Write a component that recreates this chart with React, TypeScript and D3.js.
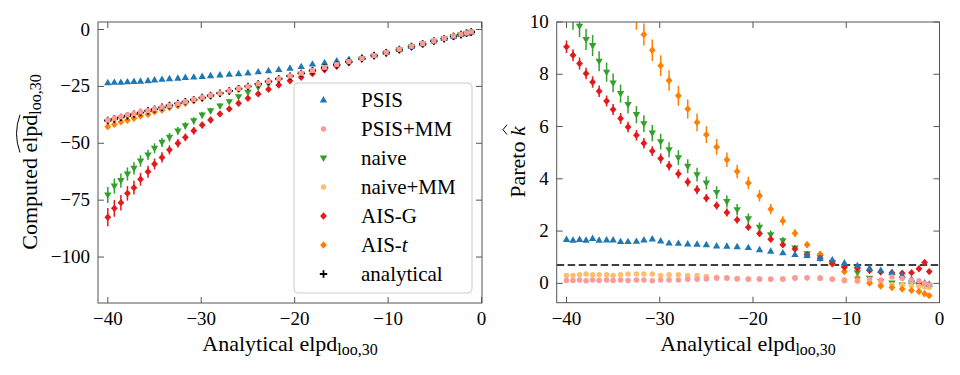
import { useEffect, useRef } from 'react';
import * as d3 from 'd3';

// analytical elpd_loo,30 (x positions shared by both panels)
const elpdX = [-40.0, -39.3, -38.6, -37.9, -37.2, -36.5, -35.7, -35.0, -34.2, -33.4, -32.5, -31.7, -30.8, -29.9, -29.0, -28.0, -27.0, -26.0, -25.0, -23.9, -22.8, -21.7, -20.5, -19.3, -18.1, -16.8, -15.5, -14.2, -12.8, -11.5, -10.2, -8.8, -7.5, -6.3, -5.1, -4.0, -3.0, -2.2, -1.6, -1.1];

// left panel: computed elpd
const psisElpd = [-23.4, -23.2, -23.2, -23.0, -22.8, -22.7, -22.5, -22.2, -21.9, -21.6, -21.4, -21.1, -20.9, -20.6, -20.3, -20.0, -19.7, -19.4, -19.1, -18.6, -18.1, -17.6, -17.0, -16.3, -15.2, -14.6, -13.8, -13.1, -12.3, -11.2, -10.1, -8.8, -7.5, -6.3, -5.1, -4.0, -3.0, -2.2, -1.6, -1.1];
const psisMmElpd = [-39.8, -39.0, -38.3, -37.5, -36.9, -36.2, -35.6, -34.8, -34.1, -33.4, -32.5, -31.7, -30.7, -29.8, -28.9, -27.9, -26.9, -25.9, -24.9, -23.8, -22.7, -21.6, -20.4, -19.2, -18.0, -16.7, -15.4, -14.1, -12.7, -11.4, -10.1, -8.7, -7.4, -6.2, -5.0, -3.9, -2.9, -2.1, -1.5, -1.0];
const naiveElpd = [-72.7, -68.8, -66.4, -63.5, -61.0, -57.8, -55.1, -52.2, -49.6, -47.4, -44.6, -42.3, -40.1, -37.6, -35.7, -33.6, -31.7, -29.5, -27.6, -25.4, -23.9, -22.2, -20.9, -19.6, -18.4, -17.1, -15.7, -14.3, -12.9, -11.6, -10.3, -8.9, -7.6, -6.4, -5.2, -4.1, -3.1, -2.3, -1.7, -1.2];
const naiveMmElpd = [-40.3, -39.5, -38.7, -37.9, -37.2, -36.5, -35.8, -35.0, -34.2, -33.5, -32.6, -31.8, -30.8, -29.9, -29.0, -28.0, -27.0, -26.0, -25.0, -23.9, -22.8, -21.7, -20.5, -19.3, -18.1, -16.8, -15.5, -14.2, -12.8, -11.5, -10.2, -8.8, -7.5, -6.3, -5.1, -4.0, -3.0, -2.2, -1.6, -1.1];
const aisGElpd = [-82.5, -78.6, -76.1, -72.0, -69.5, -65.8, -62.5, -59.1, -56.2, -52.9, -50.0, -47.4, -44.5, -42.0, -39.8, -37.1, -34.9, -32.4, -30.2, -28.3, -26.3, -24.4, -22.5, -21.0, -19.4, -17.7, -16.2, -14.6, -13.0, -11.6, -10.3, -8.9, -7.6, -6.4, -5.2, -4.1, -3.1, -2.3, -1.7, -1.2];
const aisTElpd = [-42.7, -41.7, -40.6, -39.9, -39.0, -38.0, -37.3, -36.2, -35.4, -34.3, -33.5, -32.4, -31.3, -30.3, -29.3, -28.2, -27.2, -26.2, -25.1, -24.0, -22.9, -21.8, -20.6, -19.4, -18.2, -16.9, -15.6, -14.3, -12.9, -11.6, -10.3, -8.9, -7.6, -6.4, -5.2, -4.1, -3.1, -2.3, -1.7, -1.2];
const analyticalElpd = [-40.0, -39.3, -38.6, -37.9, -37.2, -36.5, -35.7, -35.0, -34.2, -33.4, -32.5, -31.7, -30.8, -29.9, -29.0, -28.0, -27.0, -26.0, -25.0, -23.9, -22.8, -21.7, -20.5, -19.3, -18.1, -16.8, -15.5, -14.2, -12.8, -11.5, -10.2, -8.8, -7.5, -6.3, -5.1, -4.0, -3.0, -2.2, -1.6, -1.1];

const naiveElpdErr = [3.5, 3.3, 3.1, 2.9, 2.7, 2.5, 2.3, 2.2, 2.0, 1.9, 1.7, 1.6, 1.5, 1.4, 1.3, 1.2, 1.1, 1.0, 0.9, 0.8, 0.7, 0.6, 0.5, 0.5, 0.4, 0.4, 0.3, 0.3, 0.3, 0.2, 0.2, 0.2, 0.2, 0.2, 0.1, 0.1, 0.1, 0.1, 0.1, 0.1];
const aisGElpdErr = [4.0, 3.7, 3.4, 3.2, 3.0, 2.8, 2.6, 2.4, 2.2, 2.0, 1.9, 1.7, 1.6, 1.5, 1.4, 1.3, 1.2, 1.1, 1.0, 0.9, 0.8, 0.7, 0.6, 0.6, 0.5, 0.4, 0.4, 0.3, 0.3, 0.2, 0.2, 0.2, 0.2, 0.2, 0.1, 0.1, 0.1, 0.1, 0.1, 0.1];
const aisTElpdErr = [0.6, 0.6, 0.5, 0.5, 0.5, 0.5, 0.4, 0.4, 0.4, 0.4, 0.3, 0.3, 0.3, 0.3, 0.3, 0.2, 0.2, 0.2, 0.2, 0.2, 0.2, 0.1, 0.1, 0.1, 0.1, 0.1, 0.1, 0.1, 0.1, 0.1, 0.1, 0.1, 0.1, 0.1, 0.1, 0.1, 0.1, 0.1, 0.1, 0.1];

// right panel: Pareto k-hat
const psisK = [1.68, 1.65, 1.68, 1.65, 1.72, 1.65, 1.66, 1.66, 1.60, 1.60, 1.61, 1.66, 1.70, 1.62, 1.54, 1.53, 1.51, 1.50, 1.48, 1.43, 1.42, 1.40, 1.37, 1.29, 1.23, 1.17, 1.10, 1.07, 0.95, 0.90, 0.78, 0.68, 0.58, 0.50, 0.42, 0.30, 0.16, 0.07, 0.02, -0.03];
const psisMmK = [0.11, 0.11, 0.13, 0.10, 0.13, 0.11, 0.13, 0.11, 0.13, 0.11, 0.13, 0.13, 0.10, 0.13, 0.13, 0.13, 0.16, 0.16, 0.17, 0.20, 0.20, 0.17, 0.16, 0.16, 0.16, 0.16, 0.20, 0.21, 0.20, 0.16, 0.10, 0.10, 0.16, 0.13, 0.24, 0.19, 0.13, 0.10, 0.00, -0.06];
const naiveK = [10.6, 10.15, 9.84, 9.33, 9.10, 8.50, 8.08, 7.67, 7.26, 6.84, 6.46, 6.11, 5.75, 5.42, 5.11, 4.81, 4.48, 4.16, 3.84, 3.48, 3.13, 2.82, 2.47, 2.15, 1.86, 1.63, 1.35, 1.13, 1.00, 0.80, 0.58, 0.41, 0.20, 0.07, 0.01, -0.06, -0.06, -0.06, -0.06, -0.10];
const naiveMmK = [0.30, 0.30, 0.33, 0.36, 0.33, 0.33, 0.33, 0.30, 0.33, 0.36, 0.36, 0.36, 0.36, 0.30, 0.33, 0.33, 0.30, 0.30, 0.26, 0.22, 0.21, 0.19, 0.18, 0.18, 0.17, 0.18, 0.21, 0.21, 0.20, 0.17, 0.14, 0.08, 0.02, -0.02, -0.05, -0.07, -0.08, -0.11, -0.14, -0.16];
const aisGK = [9.05, 8.73, 8.41, 8.03, 7.70, 7.35, 6.98, 6.65, 6.31, 5.98, 5.67, 5.36, 5.06, 4.78, 4.50, 4.19, 3.88, 3.58, 3.26, 2.98, 2.71, 2.43, 2.15, 1.91, 1.69, 1.48, 1.31, 1.09, 0.96, 0.77, 0.62, 0.58, 0.49, 0.43, 0.41, 0.39, 0.41, 0.56, 0.80, 0.45];
const aisTK = [15.8, 15.3, 14.7, 14.1, 13.6, 13.0, 12.4, 11.9, 11.3, 10.7, 10.2, 9.52, 8.92, 8.33, 7.76, 7.18, 6.67, 6.16, 5.69, 5.22, 4.73, 4.28, 3.84, 3.35, 2.84, 2.39, 1.92, 1.48, 1.12, 0.73, 0.45, 0.22, 0.01, -0.10, -0.16, -0.22, -0.27, -0.31, -0.40, -0.47];

const naiveKErr = [0.45, 0.45, 0.42, 0.4, 0.4, 0.38, 0.37, 0.36, 0.35, 0.34, 0.33, 0.32, 0.31, 0.3, 0.29, 0.28, 0.27, 0.26, 0.25, 0.24, 0.23, 0.22, 0.2, 0.18, 0.16, 0.14, 0.12, 0.1, 0.08, 0.07, 0.06, 0.05, 0.05, 0.04, 0.04, 0.04, 0.04, 0.04, 0.04, 0.04];
const aisGKErr = [0.24, 0.23, 0.23, 0.22, 0.22, 0.22, 0.21, 0.21, 0.21, 0.2, 0.2, 0.2, 0.19, 0.19, 0.18, 0.18, 0.17, 0.17, 0.16, 0.15, 0.15, 0.14, 0.13, 0.12, 0.11, 0.1, 0.09, 0.08, 0.07, 0.06, 0.05, 0.05, 0.04, 0.04, 0.04, 0.04, 0.04, 0.04, 0.05, 0.04];
const aisTKErr = [0.5, 0.5, 0.5, 0.5, 0.5, 0.5, 0.5, 0.5, 0.5, 0.5, 0.5, 0.42, 0.41, 0.4, 0.39, 0.38, 0.36, 0.34, 0.32, 0.3, 0.28, 0.26, 0.24, 0.22, 0.2, 0.18, 0.15, 0.12, 0.1, 0.08, 0.06, 0.05, 0.05, 0.04, 0.04, 0.04, 0.04, 0.04, 0.04, 0.04];

const xTicks = [-40, -30, -20, -10, 0];
const elpdTicks = [0, -25, -50, -75, -100];
const kTicks = [0, 2, 4, 6, 8, 10];
const kThreshold = 0.7;

const legendLabels = ['PSIS', 'PSIS+MM', 'naive', 'naive+MM', 'AIS-G', 'AIS-t', 'analytical'];

const C = {
  psis: '#1f78b4',
  psisMm: '#fb9a99',
  naive: '#33a02c',
  naiveMm: '#fdbf6f',
  aisG: '#e31a1c',
  aisT: '#ff7f00',
  analytical: '#000000',
};

const FONT = "'Liberation Serif', 'DejaVu Serif', serif";
const minus = (v: number) => (v < 0 ? '\u2212' + Math.abs(v) : String(v));

type Shape = 'up' | 'down' | 'circle' | 'diamond' | 'plus';
interface Series { key: string; color: string; shape: Shape; y: number[]; err?: number[] }
type G = d3.Selection<SVGGElement, unknown, null, undefined>;
type S = d3.Selection<SVGSVGElement, unknown, null, undefined>;

function markerPath(shape: Shape): string {
  switch (shape) {
    case 'up': return 'M0,-3.9L3.7,2.5L-3.7,2.5Z';
    case 'down': return 'M0,3.9L3.7,-2.5L-3.7,-2.5Z';
    case 'circle': return d3.symbol(d3.symbolCircle, 24)() as string;
    case 'diamond': return 'M0,-3.7L3.4,0L0,3.7L-3.4,0Z';
    default: return 'M-3.7,0H3.7M0,-3.7V3.7';
  }
}

function drawMarker(g: G, shape: Shape, color: string, x: number, y: number) {
  const p = g.append('path')
    .attr('d', markerPath(shape))
    .attr('transform', `translate(${x},${y})`);
  if (shape === 'plus') p.attr('fill', 'none').attr('stroke', color).attr('stroke-width', 1.8);
  else p.attr('fill', color);
}

// serif text helper: font set as inline style so every label uses it
function label(parent: G | S, size: number) {
  return (parent as G).append('text')
    .style('font-family', FONT)
    .style('font-size', `${size}px`)
    .attr('fill', '#000');
}

interface PanelOpts {
  id: string;
  left: number; right: number; top: number; bottom: number;
  xDomain: [number, number];
  yDomain: [number, number];
  yTicks: number[];
  series: Series[];
  threshold?: number;
}

function drawPanel(svg: S, o: PanelOpts) {
  const x = d3.scaleLinear().domain(o.xDomain).range([o.left, o.right]);
  const y = d3.scaleLinear().domain(o.yDomain).range([o.bottom, o.top]);

  svg.append('clipPath').attr('id', o.id)
    .append('rect')
    .attr('x', o.left).attr('y', o.top)
    .attr('width', o.right - o.left).attr('height', o.bottom - o.top);

  const plot = svg.append('g').attr('clip-path', `url(#${o.id})`);

  if (o.threshold !== undefined) {
    plot.append('line')
      .attr('x1', o.left).attr('x2', o.right)
      .attr('y1', y(o.threshold)).attr('y2', y(o.threshold))
      .attr('stroke', '#000').attr('stroke-width', 1.5)
      .attr('stroke-dasharray', '7.5,3.5');
  }

  o.series.forEach(s => {
    const g = plot.append('g');
    if (s.err) {
      elpdX.forEach((xv, i) => {
        g.append('line')
          .attr('x1', x(xv)).attr('x2', x(xv))
          .attr('y1', y(s.y[i] - s.err![i])).attr('y2', y(s.y[i] + s.err![i]))
          .attr('stroke', s.color).attr('stroke-width', 1.5);
      });
    }
    elpdX.forEach((xv, i) => drawMarker(g, s.shape, s.color, x(xv), y(s.y[i])));
  });

  // frame and inward ticks on all sides
  const axis = svg.append('g').attr('stroke', '#555').attr('stroke-width', 1);
  axis.append('rect')
    .attr('x', o.left).attr('y', o.top)
    .attr('width', o.right - o.left).attr('height', o.bottom - o.top)
    .attr('fill', 'none');
  const tl = 6;
  xTicks.forEach(t => {
    const px = x(t);
    axis.append('line').attr('x1', px).attr('x2', px).attr('y1', o.bottom).attr('y2', o.bottom - tl);
    axis.append('line').attr('x1', px).attr('x2', px).attr('y1', o.top).attr('y2', o.top + tl);
    label(svg, 19)
      .attr('x', px).attr('y', o.bottom + 22)
      .attr('text-anchor', 'middle')
      .append('tspan').text(minus(t));
  });
  o.yTicks.forEach(t => {
    const py = y(t);
    axis.append('line').attr('x1', o.left).attr('x2', o.left + tl).attr('y1', py).attr('y2', py);
    axis.append('line').attr('x1', o.right).attr('x2', o.right - tl).attr('y1', py).attr('y2', py);
    label(svg, 19)
      .attr('x', o.left - 8).attr('y', py + 6)
      .attr('text-anchor', 'end')
      .append('tspan').text(minus(t));
  });

  // x label
  const xl = label(svg, 22)
    .attr('x', (o.left + o.right) / 2).attr('y', o.bottom + 48)
    .attr('text-anchor', 'middle');
  xl.append('tspan').text('Analytical elpd');
  xl.append('tspan').style('font-size', '16px').attr('dy', 4).text('loo,30');
}

export default function App() {
  const svgRef = useRef<SVGSVGElement | null>(null);

  useEffect(() => {
    if (!svgRef.current) return;
    document.body.style.margin = '0';
    const svg = d3.select(svgRef.current);
    svg.selectAll('*').remove();

    const leftBox = { left: 98, right: 482, top: 22, bottom: 303 };
    const rightBox = { left: 556.7, right: 939.5, top: 22, bottom: 302.7 };

    drawPanel(svg, {
      id: 'clipL', ...leftBox,
      xDomain: [-41.05, 0.05], yDomain: [-120.2, 3.3], yTicks: elpdTicks,
      series: [
        { key: 'naive', color: C.naive, shape: 'down', y: naiveElpd, err: naiveElpdErr },
        { key: 'naiveMm', color: C.naiveMm, shape: 'circle', y: naiveMmElpd },
        { key: 'aisT', color: C.aisT, shape: 'diamond', y: aisTElpd, err: aisTElpdErr },
        { key: 'aisG', color: C.aisG, shape: 'diamond', y: aisGElpd, err: aisGElpdErr },
        { key: 'psis', color: C.psis, shape: 'up', y: psisElpd },
        { key: 'analytical', color: C.analytical, shape: 'plus', y: analyticalElpd },
        { key: 'psisMm', color: C.psisMm, shape: 'circle', y: psisMmElpd },
      ],
    });

    drawPanel(svg, {
      id: 'clipR', ...rightBox,
      xDomain: [-41.05, 0], yDomain: [-0.74, 10], yTicks: kTicks,
      threshold: kThreshold,
      series: [
        { key: 'naive', color: C.naive, shape: 'down', y: naiveK, err: naiveKErr },
        { key: 'naiveMm', color: C.naiveMm, shape: 'circle', y: naiveMmK },
        { key: 'aisT', color: C.aisT, shape: 'diamond', y: aisTK, err: aisTKErr },
        { key: 'aisG', color: C.aisG, shape: 'diamond', y: aisGK, err: aisGKErr },
        { key: 'psis', color: C.psis, shape: 'up', y: psisK },
        { key: 'psisMm', color: C.psisMm, shape: 'circle', y: psisMmK },
      ],
    });

    // left y label with a wide hat over "elpd"
    const yl = svg.append('g').attr('transform', 'translate(37,162) rotate(-90)');
    const ylt = label(yl, 22);
    const t1 = ylt.append('tspan').text('Computed ');
    const t2 = ylt.append('tspan').text('elpd');
    ylt.append('tspan').style('font-size', '16px').attr('dy', 4).text('loo,30');
    const total = (ylt.node() as SVGTextElement).getComputedTextLength();
    ylt.attr('x', -total / 2);
    const s0 = -total / 2 + (t1.node() as SVGTSpanElement).getComputedTextLength();
    const w = (t2.node() as SVGTSpanElement).getComputedTextLength();
    yl.append('path')
      .attr('d', `M${s0},-17 Q${s0 + w / 2},-24 ${s0 + w},-17`)
      .attr('fill', 'none').attr('stroke', '#000').attr('stroke-width', 1);

    // right y label: Pareto k-hat
    const kl = svg.append('g').attr('transform', 'translate(525,162) rotate(-90)');
    const klt = label(kl, 22);
    const k1 = klt.append('tspan').text('Pareto ');
    const k2 = klt.append('tspan').style('font-style', 'italic').text('k');
    const ktot = (klt.node() as SVGTextElement).getComputedTextLength();
    klt.attr('x', -ktot / 2);
    const ks = -ktot / 2 + (k1.node() as SVGTSpanElement).getComputedTextLength();
    const kw = (k2.node() as SVGTSpanElement).getComputedTextLength();
    kl.append('path')
      .attr('d', `M${ks + 1.5},-18 L${ks + kw / 2 + 1.5},-22 L${ks + kw + 1.5},-18`)
      .attr('fill', 'none').attr('stroke', '#000').attr('stroke-width', 1);

    // legend
    const lg = svg.append('g');
    lg.append('rect')
      .attr('x', 294).attr('y', 83).attr('width', 178).attr('height', 210)
      .attr('rx', 4).attr('fill', '#fff').attr('fill-opacity', 0.8)
      .attr('stroke', '#cccccc').attr('stroke-width', 1);
    const legendItems: { label: string; color: string; shape: Shape }[] = [
      { label: legendLabels[0], color: C.psis, shape: 'up' },
      { label: legendLabels[1], color: C.psisMm, shape: 'circle' },
      { label: legendLabels[2], color: C.naive, shape: 'down' },
      { label: legendLabels[3], color: C.naiveMm, shape: 'circle' },
      { label: legendLabels[4], color: C.aisG, shape: 'diamond' },
      { label: legendLabels[5], color: C.aisT, shape: 'diamond' },
      { label: legendLabels[6], color: C.analytical, shape: 'plus' },
    ];
    legendItems.forEach((it, i) => {
      const cy = 100 + i * 29;
      drawMarker(lg, it.shape, it.color, 323.5, cy);
      const tx = label(lg, 21).attr('x', 361).attr('y', cy + 7);
      if (it.label === 'AIS-t') {
        tx.append('tspan').text('AIS-');
        tx.append('tspan').style('font-style', 'italic').text('t');
      } else {
        tx.append('tspan').text(it.label);
      }
    });
  }, []);

  return (
    <svg
      ref={svgRef}
      width={960}
      height={375}
      style={{ display: 'block', background: '#fff', fontFamily: FONT }}
    />
  );
}
